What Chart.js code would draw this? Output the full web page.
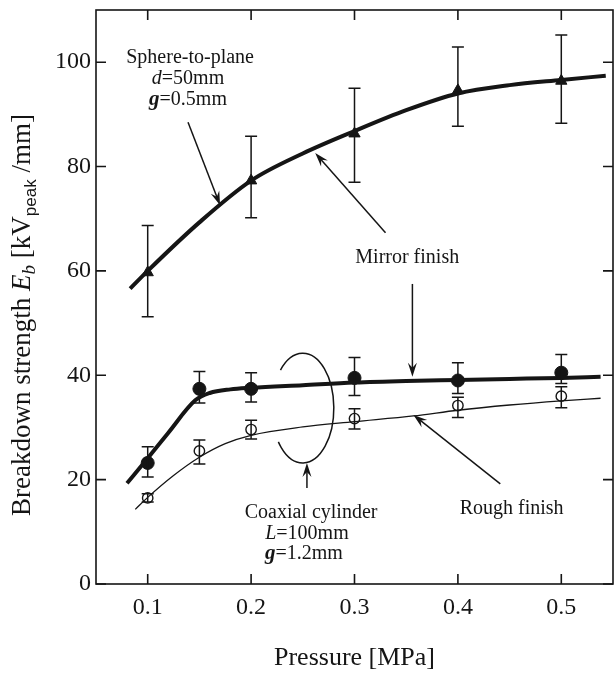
<!DOCTYPE html>
<html>
<head>
<meta charset="utf-8">
<script src="https://cdn.jsdelivr.net/npm/chart.js@4.4.0/dist/chart.umd.min.js"></script>
<style>
    html, body { margin: 0; padding: 0; background: #fff; }
    #wrap { width: 615px; height: 673px; }
</style>
</head>
<body>
<div id="wrap"><canvas id="chart" width="615" height="673"></canvas></div>
<script>
// Messpunkte: Druck [MPa] und Durchschlagfestigkeit [kV/mm]
const spherePressure = [0.1, 0.2, 0.3, 0.4, 0.5];
const sphereMean = [59.7, 77.3, 86.3, 94.6, 96.4];
const sphereHigh = [68.7, 85.8, 95.0, 102.9, 105.2];
const sphereLow = [51.2, 70.2, 77.0, 87.7, 88.3];

const coaxPressure = [0.1, 0.15, 0.2, 0.3, 0.4, 0.5];
const mirrorMean = [23.2, 37.4, 37.4, 39.5, 39.0, 40.5];
const mirrorHigh = [26.3, 40.7, 40.5, 43.4, 42.4, 44.0];
const mirrorLow = [20.5, 34.7, 34.9, 36.1, 36.5, 38.4];
const roughMean = [16.5, 25.5, 29.6, 31.7, 34.2, 36.0];
const roughHigh = [17.3, 27.6, 31.4, 33.6, 35.8, 37.8];
const roughLow = [15.7, 23.0, 27.8, 29.7, 31.9, 33.8];

const sphereFitX = [0.083, 0.1, 0.15, 0.2, 0.25, 0.3, 0.35, 0.4, 0.45, 0.5, 0.543];
const sphereFitY = [56.6, 60.0, 69.3, 77.3, 82.5, 86.8, 90.8, 94.0, 95.6, 96.6, 97.4];
const mirrorFitX = [0.08, 0.1, 0.12, 0.146, 0.16, 0.18, 0.2, 0.25, 0.3, 0.35, 0.4, 0.45, 0.5, 0.538];
const mirrorFitY = [19.3, 24.1, 29.0, 35.2, 36.6, 37.3, 37.6, 38.1, 38.6, 38.9, 39.1, 39.3, 39.5, 39.7];
const roughFitX = [0.088, 0.1, 0.125, 0.15, 0.175, 0.2, 0.25, 0.3, 0.357, 0.4, 0.45, 0.5, 0.538];
const roughFitY = [14.3, 16.6, 20.8, 24.3, 26.9, 28.5, 30.1, 31.1, 32.2, 33.3, 34.3, 35.1, 35.6];

// Achsen
const xTicks = [0.1, 0.2, 0.3, 0.4, 0.5];
const yTicks = [0, 20, 40, 60, 80, 100];

const ink = '#151515';
const serif = '"Liberation Serif", "Times New Roman", serif';

function toPoints(xs, ys) {
    return xs.map((x, i) => ({ x: x, y: ys[i] }));
}

function fitLine(xs, ys, width) {
    return {
        type: 'line',
        data: toPoints(xs, ys),
        borderColor: ink,
        borderWidth: width,
        pointRadius: 0,
        cubicInterpolationMode: 'monotone',
        fill: false
    };
}

function markers(xs, ys, style, radius, fillColor, border) {
    return {
        type: 'line',
        data: toPoints(xs, ys),
        showLine: false,
        pointStyle: style,
        pointRadius: radius,
        pointBackgroundColor: fillColor,
        pointBorderColor: ink,
        pointBorderWidth: border
    };
}

const errorSets = [
    { x: spherePressure, low: sphereLow, high: sphereHigh },
    { x: coaxPressure, low: mirrorLow, high: mirrorHigh },
    { x: coaxPressure, low: roughLow, high: roughHigh }
];

// Fehlerbalken mit Querstrichen
const errorBarPlugin = {
    id: 'errorBars',
    afterDatasetsDraw(chart) {
        const ctx = chart.ctx;
        const xs = chart.scales.x;
        const ys = chart.scales.y;
        ctx.save();
        ctx.strokeStyle = ink;
        ctx.lineWidth = 1.5;
        errorSets.forEach(set => {
            set.x.forEach((xv, i) => {
                const px = xs.getPixelForValue(xv);
                const top = ys.getPixelForValue(set.high[i]);
                const bot = ys.getPixelForValue(set.low[i]);
                ctx.beginPath();
                ctx.moveTo(px, top);
                ctx.lineTo(px, bot);
                ctx.moveTo(px - 6, top);
                ctx.lineTo(px + 6, top);
                ctx.moveTo(px - 6, bot);
                ctx.lineTo(px + 6, bot);
                ctx.stroke();
            });
        });
        ctx.restore();
    }
};

// Rahmen mit nach innen zeigenden Teilstrichen
const framePlugin = {
    id: 'frame',
    afterDraw(chart) {
        const ctx = chart.ctx;
        const a = chart.chartArea;
        const xs = chart.scales.x;
        const ys = chart.scales.y;
        const len = 10;
        ctx.save();
        ctx.strokeStyle = ink;
        ctx.lineWidth = 1.6;
        ctx.strokeRect(a.left, a.top, a.right - a.left, a.bottom - a.top);
        ctx.beginPath();
        xTicks.forEach(v => {
            const px = xs.getPixelForValue(v);
            ctx.moveTo(px, a.bottom);
            ctx.lineTo(px, a.bottom - len);
            ctx.moveTo(px, a.top);
            ctx.lineTo(px, a.top + len);
        });
        yTicks.forEach(v => {
            const py = ys.getPixelForValue(v);
            ctx.moveTo(a.left, py);
            ctx.lineTo(a.left + len, py);
            ctx.moveTo(a.right, py);
            ctx.lineTo(a.right - len, py);
        });
        ctx.stroke();
        ctx.restore();
    }
};

// Text aus mehreren Teilen mit unterschiedlichen Schriften
function drawRich(ctx, parts, cx, baseline) {
    let total = 0;
    parts.forEach(p => {
        ctx.font = p.font;
        p.w = ctx.measureText(p.t).width;
        total += p.w;
    });
    let x = cx - total / 2;
    ctx.textAlign = 'left';
    ctx.textBaseline = 'alphabetic';
    parts.forEach(p => {
        ctx.font = p.font;
        ctx.fillText(p.t, x, baseline + (p.dy || 0));
        x += p.w;
    });
}

function drawArrow(ctx, x1, y1, x2, y2) {
    const ang = Math.atan2(y2 - y1, x2 - x1);
    const hl = 14, hw = 4.5;
    ctx.beginPath();
    ctx.moveTo(x1, y1);
    ctx.lineTo(x2 - Math.cos(ang) * 8, y2 - Math.sin(ang) * 8);
    ctx.stroke();
    ctx.save();
    ctx.translate(x2, y2);
    ctx.rotate(ang);
    ctx.beginPath();
    ctx.moveTo(0, 0);
    ctx.lineTo(-hl, -hw);
    ctx.lineTo(-hl * 0.65, 0);
    ctx.lineTo(-hl, hw);
    ctx.closePath();
    ctx.fill();
    ctx.restore();
}

const f20 = '20px ' + serif;
const f20i = 'italic 20px ' + serif;
const f20g = 'bold italic 21px ' + serif;

// Beschriftungen und Pfeile (Positionen in Achseneinheiten)
const annotationPlugin = {
    id: 'annotations',
    afterDraw(chart) {
        const ctx = chart.ctx;
        const xs = chart.scales.x;
        const ys = chart.scales.y;
        const P = (x, y) => [xs.getPixelForValue(x), ys.getPixelForValue(y)];
        ctx.save();
        ctx.fillStyle = ink;
        ctx.strokeStyle = ink;
        ctx.lineWidth = 1.5;

        let p = P(0.141, 101);
        drawRich(ctx, [{ t: 'Sphere-to-plane', font: f20 }], p[0], p[1] + 6);
        p = P(0.139, 97);
        drawRich(ctx, [{ t: 'd', font: f20i }, { t: '=50mm', font: f20 }], p[0], p[1] + 6);
        p = P(0.139, 93);
        drawRich(ctx, [{ t: 'g', font: f20g }, { t: '=0.5mm', font: f20 }], p[0], p[1] + 6);

        let a = P(0.139, 88.5), b = P(0.17, 72.6);
        drawArrow(ctx, a[0], a[1], b[0], b[1]);
        a = P(0.330, 67.3); b = P(0.262, 82.6);
        drawArrow(ctx, a[0], a[1], b[0], b[1]);

        p = P(0.351, 62.7);
        drawRich(ctx, [{ t: 'Mirror finish', font: f20 }], p[0], p[1] + 6);
        a = P(0.356, 57.5); b = P(0.356, 39.7);
        drawArrow(ctx, a[0], a[1], b[0], b[1]);

        // Ellipse um die Koaxialkurven
        const c = P(0.25, 33.7);
        const rx = xs.getPixelForValue(0.28) - c[0];
        const ry = ys.getPixelForValue(33.7 - 10.5) - c[1];
        ctx.beginPath();
        ctx.ellipse(c[0], c[1], rx, ry, 0, -136 * Math.PI / 180, 142 * Math.PI / 180);
        ctx.stroke();
        a = P(0.254, 18.4); b = P(0.254, 23.2);
        drawArrow(ctx, a[0], a[1], b[0], b[1]);

        p = P(0.258, 13.8);
        drawRich(ctx, [{ t: 'Coaxial cylinder', font: f20 }], p[0], p[1] + 6);
        p = P(0.254, 9.8);
        drawRich(ctx, [{ t: 'L', font: f20i }, { t: '=100mm', font: f20 }], p[0], p[1] + 6);
        p = P(0.251, 5.9);
        drawRich(ctx, [{ t: 'g', font: f20g }, { t: '=1.2mm', font: f20 }], p[0], p[1] + 6);

        p = P(0.452, 14.6);
        drawRich(ctx, [{ t: 'Rough finish', font: f20 }], p[0], p[1] + 6);
        a = P(0.441, 19.2); b = P(0.357, 32.4);
        drawArrow(ctx, a[0], a[1], b[0], b[1]);

        // Achsentitel
        const area = chart.chartArea;
        drawRich(ctx, [{ t: 'Pressure [MPa]', font: '26px ' + serif }], (area.left + area.right) / 2, 665);

        ctx.translate(30, 315);
        ctx.rotate(-Math.PI / 2);
        drawRich(ctx, [
            { t: 'Breakdown strength ', font: '27px ' + serif },
            { t: 'E', font: 'italic 27px ' + serif },
            { t: 'b', font: 'italic 19px ' + serif, dy: 5 },
            { t: ' [kV', font: '27px ' + serif },
            { t: 'peak', font: '17px "Liberation Sans", sans-serif', dy: 6 },
            { t: ' /mm]', font: '27px ' + serif }
        ], 0, 0);
        ctx.restore();
    }
};

const ctx = document.getElementById('chart').getContext('2d');
const chartInstance = new Chart(ctx, {
    type: 'line',
    data: {
        datasets: [
            fitLine(sphereFitX, sphereFitY, 4),
            fitLine(mirrorFitX, mirrorFitY, 4),
            fitLine(roughFitX, roughFitY, 1.3),
            markers(spherePressure, sphereMean, 'triangle', 6.5, ink, 1),
            markers(coaxPressure, mirrorMean, 'circle', 6.5, ink, 1),
            markers(coaxPressure, roughMean, 'circle', 5.2, '#fff', 1.4)
        ]
    },
    options: {
        responsive: false,
        animation: false,
        events: [],
        layout: { autoPadding: false, padding: { top: 10, right: 2, left: 0, bottom: 0 } },
        plugins: {
            legend: { display: false },
            tooltip: { enabled: false }
        },
        scales: {
            x: {
                type: 'linear',
                min: 0.05,
                max: 0.55,
                afterBuildTicks: scale => { scale.ticks = xTicks.map(v => ({ value: v })); },
                afterFit: scale => {
                    scale.height = 89;
                    scale.paddingLeft = 0;
                    scale.paddingRight = 0;
                },
                grid: { display: false, drawTicks: false },
                border: { display: false },
                ticks: {
                    padding: 9,
                    color: ink,
                    font: { family: serif, size: 24 },
                    callback: v => v.toFixed(1)
                }
            },
            y: {
                type: 'linear',
                min: 0,
                max: 110,
                afterBuildTicks: scale => { scale.ticks = yTicks.map(v => ({ value: v })); },
                afterFit: scale => {
                    scale.width = 96;
                    scale.paddingTop = 0;
                    scale.paddingBottom = 0;
                },
                grid: { display: false, drawTicks: false },
                border: { display: false },
                ticks: {
                    padding: 5,
                    color: ink,
                    font: { family: serif, size: 24 }
                }
            }
        }
    },
    plugins: [errorBarPlugin, framePlugin, annotationPlugin]
});
</script>
</body>
</html>
